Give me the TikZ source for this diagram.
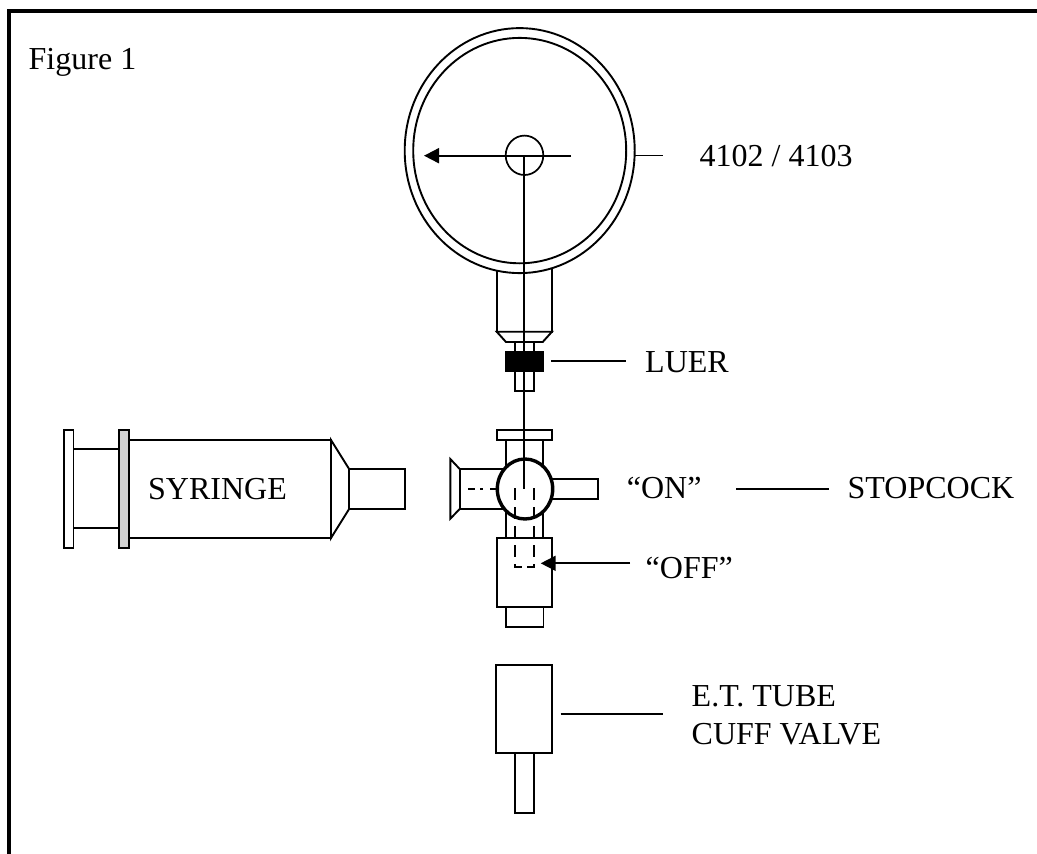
\documentclass[tikz,border=0pt]{standalone}
\usepackage{fontspec}
\setmainfont{Liberation Serif}
\usetikzlibrary{arrows.meta}
\tikzset{
  part/.style={draw=black,line width=1.9pt,fill=white},
  wire/.style={draw=black,line width=1.9pt},
  hiddenline/.style={draw=black,line width=1.6pt,dash pattern=on 12pt off 7pt},
  label/.style={inner sep=0pt,anchor=base west,font=\fontsize{32}{36}\selectfont},
  pointer/.style={wire,-{Triangle[length=15pt,width=15pt]}}
}
\begin{document}
\begin{tikzpicture}[x=1pt,y=-1pt]
\useasboundingbox (0,0) rectangle (1037,854);
% frame
\draw[line width=4pt,line cap=butt] (9,854) -- (9,10.5) -- (1037,10.5);
% gauge neck
\draw[part] (496.7,265) rectangle (552,331.7);
\draw[part] (496.7,331.7) -- (506,342) -- (542.7,342) -- (552,331.7) -- cycle;
% gauge
\draw[part] (519.7,150.6) ellipse [x radius=115,y radius=122.5];
\draw[part] (519.7,150.6) ellipse [x radius=106.5,y radius=112.7];
\draw[wire,line width=1.7pt] (524.5,155.3) ellipse [x radius=18.8,y radius=19.7];
\coordinate (needleTail) at (571,155.7);
\coordinate (needleTip) at (424,155.7);
\draw[pointer] (needleTail) -- (needleTip);
% luer
\draw[part] (515,342) rectangle (534,391);
\fill (505,351) rectangle (543.7,372);
% stopcock
\draw[part] (506,440.3) rectangle (543.3,540);
\draw[part] (496.7,430) rectangle (552,440.3);
\draw[part] (460,469.3) rectangle (505,508.7);
\draw[part] (450.3,459) -- (460,469.3) -- (460,508.7) -- (450.3,518.7) -- cycle;
\draw[part] (545,479) rectangle (598,499);
\draw[part] (496.7,537.7) rectangle (552,606.7);
\draw[part] (506,606.7) rectangle (543.5,626.7);
\draw[draw=black,line width=3.4pt,fill=white] (525,489) ellipse [x radius=27.7,y radius=30];
\draw[draw=black,line width=1.7pt,dash pattern=on 7pt off 5pt on 3pt off 7pt] (468.3,489) -- (497,489);
\draw[hiddenline] (515,488) -- (515,567) -- (521.7,567);
\draw[hiddenline] (533.7,488) -- (533.7,567) -- (527.3,567);
% centre stem
\coordinate (stemTop) at (524.3,155.7);
\coordinate (stemEnd) at (524.3,489);
\draw[wire] (stemTop) -- (stemEnd);
% syringe
\draw[part] (73.5,449.3) rectangle (119.3,528);
\draw[part] (64,430) rectangle (73.5,547.7);
\draw[part,fill=black!18] (119.3,430) rectangle (129,547.7);
\draw[part] (129,440) -- (331,440) -- (331,538) -- (129,538) -- cycle;
\draw[part] (331,440) -- (349.3,469.3) -- (349.3,508.7) -- (331,538) -- cycle;
\draw[part] (349.3,469.3) rectangle (404.7,508.7);
% e.t. tube valve
\draw[part] (496,665) rectangle (552,753.3);
\draw[part] (514.7,753.3) rectangle (533.7,812.7);
% labels
\node[label] (fig) at (28.5,69) {Figure 1};
\node[label] (gaugeLabel) at (699.5,166) {4102 / 4103};
\node[label] (luerLabel) at (645,372.5) {LUER};
\node[label] (syringeLabel) at (148,499.5) {SYRINGE};
\node[label] (onLabel) at (626.7,498.6) {“ON”};
\node[label] (stopLabel) at (847.5,498.6) {STOPCOCK};
\node[label] (offLabel) at (645.5,578) {“OFF”};
\node[label] (etLabel) at (691.5,706.7) {E.T. TUBE};
\node[label] (cuffLabel) at (691.5,744) {CUFF VALVE};
% leaders
\draw[wire] (635,155.5) -- (663,155.5);
\draw[wire] (551,361.3) -- (626,361.3);
\draw[wire] (736,489) -- (829,489);
\draw[pointer] (630,563.3) -- (540.7,563.3);
\draw[wire] (560.7,714) -- (663,714);
\end{tikzpicture}
\end{document}
